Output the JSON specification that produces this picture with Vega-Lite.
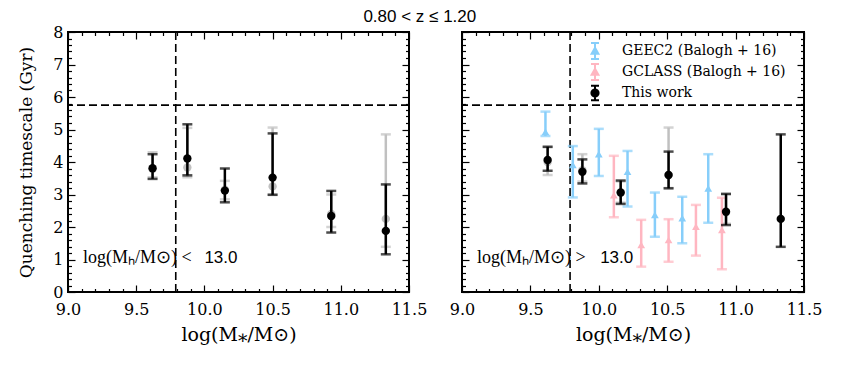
{
  "$schema": "https://vega.github.io/schema/vega-lite/v6.json",
  "autosize": "none",
  "padding": {"left": 68, "top": 32, "right": 777, "bottom": 78},
  "background": "white",
  "title": {"text": "0.80  < z ≤  1.20", "anchor": "middle", "font": "Liberation Sans", "fontSize": 17, "fontWeight": "normal", "color": "black", "offset": -3},
  "config": {
    "view": {"stroke": "black", "strokeWidth": 2},
    "axis": {"domain": false, "grid": false, "tickColor": "black", "tickWidth": 1.2, "labelColor": "black", "labelFont": "DejaVu Serif", "labelFontSize": 16, "titleFont": "DejaVu Serif", "titleFontSize": 19, "titleFontWeight": "normal", "titleColor": "black", "labelFlush": false, "labelOverlap": false}
  },
  "datasets": {
    "L": [
      {"s": "grey", "x": 9.62, "y": 3.78, "lo": 3.53, "hi": 4.30},
      {"s": "grey", "x": 9.875, "y": 3.83, "lo": 3.53, "hi": 5.05},
      {"s": "grey", "x": 10.15, "y": 3.15, "lo": 2.85, "hi": 3.42},
      {"s": "grey", "x": 10.50, "y": 3.25, "lo": 3.00, "hi": 5.06},
      {"s": "grey", "x": 10.93, "y": 2.40, "lo": 2.00, "hi": 3.00},
      {"s": "grey", "x": 11.33, "y": 2.25, "lo": 1.39, "hi": 4.85},
      {"s": "black", "x": 9.62, "y": 3.81, "lo": 3.48, "hi": 4.24},
      {"s": "black", "x": 9.875, "y": 4.11, "lo": 3.59, "hi": 5.16},
      {"s": "black", "x": 10.15, "y": 3.12, "lo": 2.76, "hi": 3.80},
      {"s": "black", "x": 10.50, "y": 3.52, "lo": 2.99, "hi": 4.88},
      {"s": "black", "x": 10.93, "y": 2.34, "lo": 1.83, "hi": 3.11},
      {"s": "black", "x": 11.33, "y": 1.88, "lo": 1.16, "hi": 3.31}
    ],
    "R": [
      {"s": "grey", "x": 9.626, "y": 4.00, "lo": 3.60, "hi": 4.45},
      {"s": "grey", "x": 9.88, "y": 3.75, "lo": 3.40, "hi": 4.24},
      {"s": "grey", "x": 10.16, "y": 3.05, "lo": 2.75, "hi": 3.40},
      {"s": "grey", "x": 10.51, "y": 3.60, "lo": 3.20, "hi": 5.06},
      {"s": "grey", "x": 10.93, "y": 2.45, "lo": 2.10, "hi": 3.00},
      {"s": "pink", "x": 10.11, "y": 2.98, "lo": 2.30, "hi": 4.19},
      {"s": "pink", "x": 10.31, "y": 1.45, "lo": 0.78, "hi": 2.22},
      {"s": "pink", "x": 10.51, "y": 1.60, "lo": 0.93, "hi": 2.24},
      {"s": "pink", "x": 10.71, "y": 2.01, "lo": 1.12, "hi": 2.68},
      {"s": "pink", "x": 10.90, "y": 1.91, "lo": 0.70, "hi": 2.90},
      {"s": "blue", "x": 9.61, "y": 4.93, "lo": 4.80, "hi": 5.55},
      {"s": "blue", "x": 9.81, "y": 3.91, "lo": 2.91, "hi": 4.49},
      {"s": "blue", "x": 10.00, "y": 4.24, "lo": 3.57, "hi": 5.02},
      {"s": "blue", "x": 10.21, "y": 3.70, "lo": 2.63, "hi": 4.34},
      {"s": "blue", "x": 10.41, "y": 2.37, "lo": 1.70, "hi": 3.06},
      {"s": "blue", "x": 10.61, "y": 2.27, "lo": 1.50, "hi": 2.93},
      {"s": "blue", "x": 10.80, "y": 3.19, "lo": 2.13, "hi": 4.24},
      {"s": "black", "x": 9.626, "y": 4.06, "lo": 3.73, "hi": 4.47},
      {"s": "black", "x": 9.88, "y": 3.70, "lo": 3.34, "hi": 4.08},
      {"s": "black", "x": 10.16, "y": 3.06, "lo": 2.71, "hi": 3.43},
      {"s": "black", "x": 10.51, "y": 3.60, "lo": 3.19, "hi": 4.32},
      {"s": "black", "x": 10.93, "y": 2.47, "lo": 2.06, "hi": 3.02},
      {"s": "black", "x": 11.33, "y": 2.25, "lo": 1.39, "hi": 4.85}
    ],
    "LG": [
      {"s": "GEEC2 (Balogh + 16)"},
      {"s": "GCLASS (Balogh + 16)"},
      {"s": "This work"}
    ]
  },
  "spacing": 53,
  "bounds": "flush",
  "resolve": {"scale": {"fill": "independent", "stroke": "independent", "shape": "independent"}, "legend": {"fill": "independent", "stroke": "independent", "shape": "independent"}},
  "hconcat": [
    {
      "width": 341,
      "height": 260,
      "resolve": {"axis": {"x": "independent", "y": "independent"}},
      "layer": [
        {"data": {"values": [{}]}, "mark": {"type": "rule", "strokeDash": [8, 4], "strokeWidth": 1.6, "color": "black"}, "encoding": {"y": {"datum": 5.75, "type": "quantitative", "axis": null}}},
        {"data": {"values": [{}]}, "mark": {"type": "rule", "strokeDash": [8, 4], "strokeWidth": 1.6, "color": "black"}, "encoding": {"x": {"datum": 9.79, "type": "quantitative", "axis": null}}},
        {"data": {"name": "L"}, "transform": [{"filter": "datum.s == 'grey'"}], "mark": {"type": "rule", "strokeWidth": 2.5, "color": "#c0c0c0"},
          "encoding": {
            "x": {"field": "x", "type": "quantitative", "scale": {"domain": [9, 11.5], "nice": false, "zero": false},
              "axis": {"orient": "bottom", "values": [9,9.1,9.2,9.3,9.4,9.5,9.6,9.7,9.8,9.9,10,10.1,10.2,10.3,10.4,10.5,10.6,10.7,10.8,10.9,11,11.1,11.2,11.3,11.4,11.5],
                "labelExpr": "abs(datum.value*2-round(datum.value*2))<0.01 ? format(datum.value,'.1f') : ''",
                "tickSize": {"condition": {"test": "abs(datum.value*2-round(datum.value*2))<0.01", "value": -7}, "value": -3.5},
                "labelPadding": 16, "title": "log(M⁎/M⊙)", "titlePadding": 5}},
            "y": {"field": "lo", "type": "quantitative", "scale": {"domain": [0, 8], "nice": false, "zero": false},
              "axis": {"orient": "left", "values": [0,0.2,0.4,0.6,0.8,1,1.2,1.4,1.6,1.8,2,2.2,2.4,2.6,2.8,3,3.2,3.4,3.6,3.8,4,4.2,4.4,4.6,4.8,5,5.2,5.4,5.6,5.8,6,6.2,6.4,6.6,6.8,7,7.2,7.4,7.6,7.8,8],
                "labelExpr": "abs(datum.value-round(datum.value))<0.01 ? format(datum.value,'d') : ''",
                "tickSize": {"condition": {"test": "abs(datum.value-round(datum.value))<0.01", "value": -7}, "value": -3.5},
                "labelPadding": 12, "title": "Quenching timescale (Gyr)", "titleFontSize": 17, "titlePadding": 17}},
            "y2": {"field": "hi"}
          }},
        {"data": {"name": "L"}, "transform": [{"filter": "datum.s == 'grey'"}], "mark": {"type": "tick", "orient": "horizontal", "size": 10, "thickness": 2.5, "color": "#c0c0c0"},
          "encoding": {"x": {"field": "x", "type": "quantitative", "axis": null}, "y": {"field": "lo", "type": "quantitative", "axis": null}}},
        {"data": {"name": "L"}, "transform": [{"filter": "datum.s == 'grey'"}], "mark": {"type": "tick", "orient": "horizontal", "size": 10, "thickness": 2.5, "color": "#c0c0c0"},
          "encoding": {"x": {"field": "x", "type": "quantitative", "axis": null}, "y": {"field": "hi", "type": "quantitative", "axis": null}}},
        {"data": {"name": "L"}, "transform": [{"filter": "datum.s == 'grey'"}], "mark": {"type": "point", "shape": "circle", "filled": true, "size": 70, "color": "#c0c0c0", "opacity": 1},
          "encoding": {"x": {"field": "x", "type": "quantitative", "axis": null}, "y": {"field": "y", "type": "quantitative", "axis": null}}},
        {"data": {"name": "L"}, "transform": [{"filter": "datum.s == 'black'"}], "mark": {"type": "rule", "strokeWidth": 2.5, "color": "black"},
          "encoding": {
            "x": {"field": "x", "type": "quantitative",
              "axis": {"orient": "top", "values": [9,9.1,9.2,9.3,9.4,9.5,9.6,9.7,9.8,9.9,10,10.1,10.2,10.3,10.4,10.5,10.6,10.7,10.8,10.9,11,11.1,11.2,11.3,11.4,11.5],
                "labels": false, "title": null,
                "tickSize": {"condition": {"test": "abs(datum.value*2-round(datum.value*2))<0.01", "value": -7}, "value": -3.5}}},
            "y": {"field": "lo", "type": "quantitative",
              "axis": {"orient": "right", "values": [0,0.2,0.4,0.6,0.8,1,1.2,1.4,1.6,1.8,2,2.2,2.4,2.6,2.8,3,3.2,3.4,3.6,3.8,4,4.2,4.4,4.6,4.8,5,5.2,5.4,5.6,5.8,6,6.2,6.4,6.6,6.8,7,7.2,7.4,7.6,7.8,8],
                "labels": false, "title": null,
                "tickSize": {"condition": {"test": "abs(datum.value-round(datum.value))<0.01", "value": -7}, "value": -3.5}}},
            "y2": {"field": "hi"}
          }},
        {"data": {"name": "L"}, "transform": [{"filter": "datum.s == 'black'"}], "mark": {"type": "tick", "orient": "horizontal", "size": 10, "thickness": 2.5, "color": "black"},
          "encoding": {"x": {"field": "x", "type": "quantitative", "axis": null}, "y": {"field": "lo", "type": "quantitative", "axis": null}}},
        {"data": {"name": "L"}, "transform": [{"filter": "datum.s == 'black'"}], "mark": {"type": "tick", "orient": "horizontal", "size": 10, "thickness": 2.5, "color": "black"},
          "encoding": {"x": {"field": "x", "type": "quantitative", "axis": null}, "y": {"field": "hi", "type": "quantitative", "axis": null}}},
        {"data": {"name": "L"}, "transform": [{"filter": "datum.s == 'black'"}], "mark": {"type": "point", "shape": "circle", "filled": true, "size": 70, "color": "black", "opacity": 1},
          "encoding": {"x": {"field": "x", "type": "quantitative", "axis": null}, "y": {"field": "y", "type": "quantitative", "axis": null}}},
        {"data": {"values": [{}]}, "mark": {"type": "text", "align": "left", "baseline": "alphabetic", "font": "Liberation Serif", "fontSize": 18, "color": "black"},
          "encoding": {"x": {"datum": 9.11, "type": "quantitative", "axis": null}, "y": {"datum": 0.89, "type": "quantitative", "axis": null}, "text": {"value": "log(Mₕ/M⊙) <"}}},
        {"data": {"values": [{}]}, "mark": {"type": "text", "align": "left", "baseline": "alphabetic", "font": "Liberation Sans", "fontSize": 17, "color": "black"},
          "encoding": {"x": {"datum": 10.0, "type": "quantitative", "axis": null}, "y": {"datum": 0.89, "type": "quantitative", "axis": null}, "text": {"value": "13.0"}}}
      ]
    },
    {
      "width": 342,
      "height": 260,
      "resolve": {"axis": {"x": "independent", "y": "independent"}},
      "layer": [
        {"data": {"values": [{}]}, "mark": {"type": "rule", "strokeDash": [8, 4], "strokeWidth": 1.6, "color": "black"}, "encoding": {"y": {"datum": 5.75, "type": "quantitative", "axis": null}}},
        {"data": {"values": [{}]}, "mark": {"type": "rule", "strokeDash": [8, 4], "strokeWidth": 1.6, "color": "black"}, "encoding": {"x": {"datum": 9.79, "type": "quantitative", "axis": null}}},
        {"data": {"name": "R"}, "transform": [{"filter": "datum.s == 'grey'"}], "mark": {"type": "rule", "strokeWidth": 2.5, "color": "#c0c0c0"},
          "encoding": {
            "x": {"field": "x", "type": "quantitative", "scale": {"domain": [9, 11.5], "nice": false, "zero": false},
              "axis": {"orient": "bottom", "values": [9,9.1,9.2,9.3,9.4,9.5,9.6,9.7,9.8,9.9,10,10.1,10.2,10.3,10.4,10.5,10.6,10.7,10.8,10.9,11,11.1,11.2,11.3,11.4,11.5],
                "labelExpr": "abs(datum.value*2-round(datum.value*2))<0.01 ? format(datum.value,'.1f') : ''",
                "tickSize": {"condition": {"test": "abs(datum.value*2-round(datum.value*2))<0.01", "value": -7}, "value": -3.5},
                "labelPadding": 16, "title": "log(M⁎/M⊙)", "titlePadding": 5}},
            "y": {"field": "lo", "type": "quantitative", "scale": {"domain": [0, 8], "nice": false, "zero": false},
              "axis": {"orient": "left", "values": [0,0.2,0.4,0.6,0.8,1,1.2,1.4,1.6,1.8,2,2.2,2.4,2.6,2.8,3,3.2,3.4,3.6,3.8,4,4.2,4.4,4.6,4.8,5,5.2,5.4,5.6,5.8,6,6.2,6.4,6.6,6.8,7,7.2,7.4,7.6,7.8,8],
                "labels": false, "title": null,
                "tickSize": {"condition": {"test": "abs(datum.value-round(datum.value))<0.01", "value": -7}, "value": -3.5}}},
            "y2": {"field": "hi"}
          }},
        {"data": {"name": "R"}, "transform": [{"filter": "datum.s == 'grey'"}], "mark": {"type": "tick", "orient": "horizontal", "size": 10, "thickness": 2.5, "color": "#c0c0c0"},
          "encoding": {"x": {"field": "x", "type": "quantitative", "axis": null}, "y": {"field": "lo", "type": "quantitative", "axis": null}}},
        {"data": {"name": "R"}, "transform": [{"filter": "datum.s == 'grey'"}], "mark": {"type": "tick", "orient": "horizontal", "size": 10, "thickness": 2.5, "color": "#c0c0c0"},
          "encoding": {"x": {"field": "x", "type": "quantitative", "axis": null}, "y": {"field": "hi", "type": "quantitative", "axis": null}}},
        {"data": {"name": "R"}, "transform": [{"filter": "datum.s == 'grey'"}], "mark": {"type": "point", "shape": "circle", "filled": true, "size": 70, "color": "#c0c0c0", "opacity": 1},
          "encoding": {"x": {"field": "x", "type": "quantitative", "axis": null}, "y": {"field": "y", "type": "quantitative", "axis": null}}},
        {"data": {"name": "R"}, "transform": [{"filter": "datum.s == 'pink'"}], "mark": {"type": "rule", "strokeWidth": 2.5, "color": "#FFB6C1"},
          "encoding": {"x": {"field": "x", "type": "quantitative", "axis": null}, "y": {"field": "lo", "type": "quantitative", "axis": null}, "y2": {"field": "hi"}}},
        {"data": {"name": "R"}, "transform": [{"filter": "datum.s == 'pink'"}], "mark": {"type": "tick", "orient": "horizontal", "size": 10, "thickness": 2.5, "color": "#FFB6C1"},
          "encoding": {"x": {"field": "x", "type": "quantitative", "axis": null}, "y": {"field": "lo", "type": "quantitative", "axis": null}}},
        {"data": {"name": "R"}, "transform": [{"filter": "datum.s == 'pink'"}], "mark": {"type": "tick", "orient": "horizontal", "size": 10, "thickness": 2.5, "color": "#FFB6C1"},
          "encoding": {"x": {"field": "x", "type": "quantitative", "axis": null}, "y": {"field": "hi", "type": "quantitative", "axis": null}}},
        {"data": {"name": "R"}, "transform": [{"filter": "datum.s == 'pink'"}], "mark": {"type": "point", "shape": "triangle-up", "filled": true, "size": 60, "color": "#FFB6C1", "opacity": 1},
          "encoding": {"x": {"field": "x", "type": "quantitative", "axis": null}, "y": {"field": "y", "type": "quantitative", "axis": null}}},
        {"data": {"name": "R"}, "transform": [{"filter": "datum.s == 'blue'"}], "mark": {"type": "rule", "strokeWidth": 2.5, "color": "#87CEFA"},
          "encoding": {"x": {"field": "x", "type": "quantitative", "axis": null}, "y": {"field": "lo", "type": "quantitative", "axis": null}, "y2": {"field": "hi"}}},
        {"data": {"name": "R"}, "transform": [{"filter": "datum.s == 'blue'"}], "mark": {"type": "tick", "orient": "horizontal", "size": 10, "thickness": 2.5, "color": "#87CEFA"},
          "encoding": {"x": {"field": "x", "type": "quantitative", "axis": null}, "y": {"field": "lo", "type": "quantitative", "axis": null}}},
        {"data": {"name": "R"}, "transform": [{"filter": "datum.s == 'blue'"}], "mark": {"type": "tick", "orient": "horizontal", "size": 10, "thickness": 2.5, "color": "#87CEFA"},
          "encoding": {"x": {"field": "x", "type": "quantitative", "axis": null}, "y": {"field": "hi", "type": "quantitative", "axis": null}}},
        {"data": {"name": "R"}, "transform": [{"filter": "datum.s == 'blue'"}], "mark": {"type": "point", "shape": "triangle-up", "filled": true, "size": 60, "color": "#87CEFA", "opacity": 1},
          "encoding": {"x": {"field": "x", "type": "quantitative", "axis": null}, "y": {"field": "y", "type": "quantitative", "axis": null}}},
        {"data": {"name": "R"}, "transform": [{"filter": "datum.s == 'black'"}], "mark": {"type": "rule", "strokeWidth": 2.5, "color": "black"},
          "encoding": {
            "x": {"field": "x", "type": "quantitative",
              "axis": {"orient": "top", "values": [9,9.1,9.2,9.3,9.4,9.5,9.6,9.7,9.8,9.9,10,10.1,10.2,10.3,10.4,10.5,10.6,10.7,10.8,10.9,11,11.1,11.2,11.3,11.4,11.5],
                "labels": false, "title": null,
                "tickSize": {"condition": {"test": "abs(datum.value*2-round(datum.value*2))<0.01", "value": -7}, "value": -3.5}}},
            "y": {"field": "lo", "type": "quantitative",
              "axis": {"orient": "right", "values": [0,0.2,0.4,0.6,0.8,1,1.2,1.4,1.6,1.8,2,2.2,2.4,2.6,2.8,3,3.2,3.4,3.6,3.8,4,4.2,4.4,4.6,4.8,5,5.2,5.4,5.6,5.8,6,6.2,6.4,6.6,6.8,7,7.2,7.4,7.6,7.8,8],
                "labels": false, "title": null,
                "tickSize": {"condition": {"test": "abs(datum.value-round(datum.value))<0.01", "value": -7}, "value": -3.5}}},
            "y2": {"field": "hi"}
          }},
        {"data": {"name": "R"}, "transform": [{"filter": "datum.s == 'black'"}], "mark": {"type": "tick", "orient": "horizontal", "size": 10, "thickness": 2.5, "color": "black"},
          "encoding": {"x": {"field": "x", "type": "quantitative", "axis": null}, "y": {"field": "lo", "type": "quantitative", "axis": null}}},
        {"data": {"name": "R"}, "transform": [{"filter": "datum.s == 'black'"}], "mark": {"type": "tick", "orient": "horizontal", "size": 10, "thickness": 2.5, "color": "black"},
          "encoding": {"x": {"field": "x", "type": "quantitative", "axis": null}, "y": {"field": "hi", "type": "quantitative", "axis": null}}},
        {"data": {"name": "R"}, "transform": [{"filter": "datum.s == 'black'"}], "mark": {"type": "point", "shape": "circle", "filled": true, "size": 70, "color": "black", "opacity": 1},
          "encoding": {"x": {"field": "x", "type": "quantitative", "axis": null}, "y": {"field": "y", "type": "quantitative", "axis": null}}},
        {"data": {"values": [{}]}, "mark": {"type": "text", "align": "left", "baseline": "alphabetic", "font": "Liberation Serif", "fontSize": 18, "color": "black"},
          "encoding": {"x": {"datum": 9.11, "type": "quantitative", "axis": null}, "y": {"datum": 0.89, "type": "quantitative", "axis": null}, "text": {"value": "log(Mₕ/M⊙) >"}}},
        {"data": {"values": [{}]}, "mark": {"type": "text", "align": "left", "baseline": "alphabetic", "font": "Liberation Sans", "fontSize": 17, "color": "black"},
          "encoding": {"x": {"datum": 10.01, "type": "quantitative", "axis": null}, "y": {"datum": 0.89, "type": "quantitative", "axis": null}, "text": {"value": "13.0"}}},
        {"data": {"name": "LG"}, "transform": [{"filter": "datum.s == 'none'"}], "mark": {"type": "point", "filled": true, "strokeWidth": 2, "opacity": 1},
          "encoding": {
            "fill": {"field": "s", "type": "nominal", "scale": {"domain": ["GEEC2 (Balogh + 16)", "GCLASS (Balogh + 16)", "This work"], "range": ["#87CEFA", "#FFB6C1", "black"]},
              "legend": {"orient": "none", "legendX": 124, "legendY": 10, "title": null, "labelFont": "DejaVu Serif", "labelFontSize": 14, "labelLimit": 0, "labelColor": "black", "symbolSize": 256, "symbolStrokeWidth": 2, "rowPadding": -3, "labelOffset": 18}},
            "stroke": {"field": "s", "type": "nominal", "scale": {"domain": ["GEEC2 (Balogh + 16)", "GCLASS (Balogh + 16)", "This work"], "range": ["#87CEFA", "#FFB6C1", "black"]},
              "legend": {"orient": "none", "legendX": 124, "legendY": 10, "title": null, "labelFont": "DejaVu Serif", "labelFontSize": 14, "labelLimit": 0, "labelColor": "black", "symbolSize": 256, "symbolStrokeWidth": 2, "rowPadding": -3, "labelOffset": 18}},
            "shape": {"field": "s", "type": "nominal", "scale": {"domain": ["GEEC2 (Balogh + 16)", "GCLASS (Balogh + 16)", "This work"], "range": ["M-0.5,-1H0.5M0,-1V1M-0.5,1H0.5M0,-0.4L0.42,0.35L-0.42,0.35Z", "M-0.5,-1H0.5M0,-1V1M-0.5,1H0.5M0,-0.4L0.42,0.35L-0.42,0.35Z", "M-0.5,-0.9H0.5M0,-0.9V0.9M-0.5,0.9H0.5M0.45,0A0.45,0.45 0 1 1 -0.45,0A0.45,0.45 0 1 1 0.45,0Z"]},
              "legend": {"orient": "none", "legendX": 124, "legendY": 10, "title": null, "labelFont": "DejaVu Serif", "labelFontSize": 14, "labelLimit": 0, "labelColor": "black", "symbolSize": 256, "symbolStrokeWidth": 2, "rowPadding": -3, "labelOffset": 18}}
          }}
      ]
    }
  ]
}
